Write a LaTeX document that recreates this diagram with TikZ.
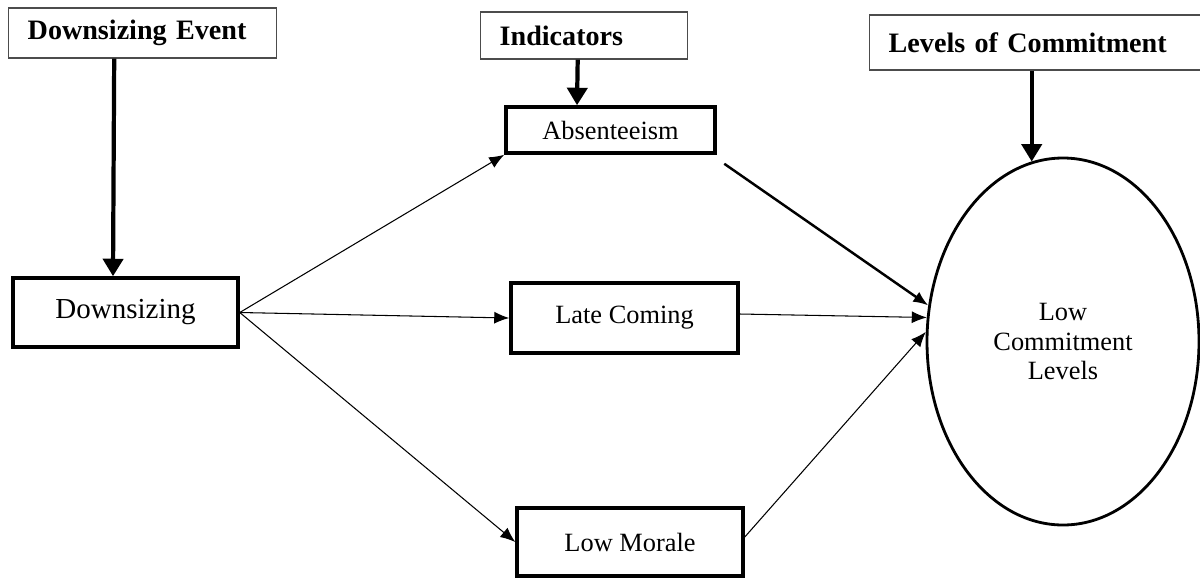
\documentclass[tikz,border=0pt]{standalone}
\usepackage{fontspec}
\setmainfont{Liberation Serif}
\usetikzlibrary{shapes.geometric,arrows.meta}

\begin{document}
\begin{tikzpicture}[head/.style={draw=black!70,line width=0.8pt,anchor=west,align=left,inner xsep=0.38cm,font=\fontsize{16}{18}\selectfont\bfseries},
    box/.style={draw,line width=2pt,font=\fontsize{15}{17}\selectfont},
    arr/.style={draw,line width=0.6pt,-{Latex[length=3mm,width=2.4mm]}},
    thickarr/.style={draw,line width=2.4pt,-{Triangle[length=3.5mm,width=4mm]}}]
    \useasboundingbox (0,0) rectangle (24,-11.54);

    \node[head, text width=4.6cm, minimum height=1cm] (dse) at (0.16,-0.66) {Downsizing Event};
    \node[head, text width=3.38cm, minimum height=0.94cm] (ind) at (9.6,-0.71) {Indicators};
    \node[head, text width=6.3cm, minimum height=1.1cm] (lev) at (17.38,-0.85) {Levels of Commitment};

    \node[box, minimum width=4.5cm, minimum height=1.38cm, font=\fontsize{16.5}{18}\selectfont] (down) at (2.51,-6.25) {Downsizing};
    \node[box, minimum width=4.18cm, minimum height=0.92cm] (abs) at (12.21,-2.6) {Absenteeism};
    \node[box, minimum width=4.54cm, minimum height=1.4cm] (late) at (12.49,-6.36) {Late Coming};
    \node[box, minimum width=4.52cm, minimum height=1.36cm] (low) at (12.6,-10.84) {Low Morale};
    \node[draw, ellipse, line width=1.6pt, minimum width=5.44cm, minimum height=7.34cm, align=center,
          font=\fontsize{15}{17}\selectfont] (ell) at (21.26,-6.83) {Low\\Commitment\\Levels};

    \draw[thickarr] ([xshift=-0.57cm]dse.south) -- ([xshift=-0.25cm]down.north);
    \draw[thickarr] ([xshift=-0.13cm]ind.south) -- ([xshift=-0.67cm]abs.north);
    \draw[thickarr] ([xshift=-0.29cm]lev.south) -- ([xshift=-0.29cm]lev.south |- ell.100);

    \draw[arr] (down.east) -- (abs.south west);
    \draw[arr] (down.east) -- (late.west);
    \draw[arr] (down.east) -- (low.west);

    \draw[arr, line width=1.4pt] ([shift={(0.15cm,-0.18cm)}]abs.south east) -- (ell.165);
    \draw[arr] ([yshift=0.08cm]late.east) -- (ell.170);
    \draw[arr] ([yshift=0.1cm]low.east) -- (ell.176);
  \end{tikzpicture}
\end{document}
